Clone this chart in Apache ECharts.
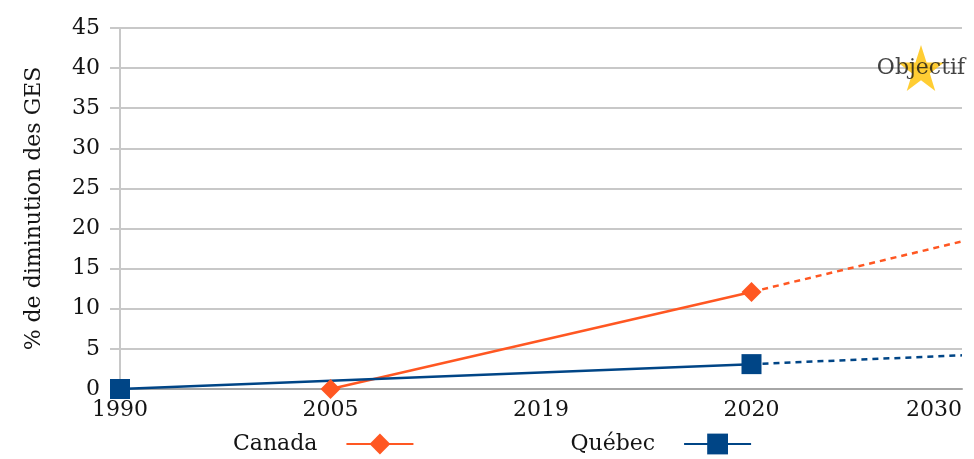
<!DOCTYPE html>
<html lang="fr">
<head>
    <meta charset="UTF-8">
    <title>% de diminution des GES</title>
    <style>
        html, body {
            margin: 0;
            padding: 0;
            background: #ffffff;
        }
        #chart {
            width: 974px;
            height: 459px;
        }
    </style>
    <script src="https://cdn.jsdelivr.net/npm/echarts@6/dist/echarts.min.js"></script>
</head>
<body>
    <div id="chart"></div>
    <script>
        // données
        const years = ['1990', '2005', '2019', '2020', '2030'];
        const canada = [null, 0, null, 12.1, null];
        const canadaProjection = [null, null, null, 12.1, 18.4];
        const quebec = [0, null, null, 3.1, null];
        const quebecProjection = [null, null, null, 3.1, 4.2];
        const objectif = [null, null, null, null, 40];

        const font = 'DejaVu Serif';
        const fontSize = 22;
        const textColor = '#141414';
        const orange = '#ff5722';
        const blue = '#004586';
        const starPath = 'path://M50,0 L61.8,35.1 L98.9,35.1 L68.8,57.4 L80.3,92.7 L50,70.8 L19.7,92.7 L31.2,57.4 L1.1,35.1 L38.2,35.1 Z';

        const chart = echarts.init(document.getElementById('chart'));
        chart.setOption({
            animation: false,
            textStyle: { fontFamily: font, color: textColor },
            grid: { left: 120, right: 12, top: 28, bottom: 70 },
            legend: {
                data: ['Canada', 'Québec'],
                bottom: -1,
                left: 228,
                align: 'right',
                itemGap: 156,
                itemWidth: 67,
                itemHeight: 26,
                textStyle: {
                    fontFamily: font,
                    fontSize: fontSize,
                    color: textColor,
                    padding: [0, 24, 0, 0]
                }
            },
            xAxis: {
                type: 'category',
                boundaryGap: false,
                data: years,
                axisLine: { lineStyle: { color: '#a6a6a6', width: 2 } },
                axisTick: { show: false },
                axisLabel: {
                    margin: 10,
                    fontSize: fontSize,
                    color: textColor,
                    fontFamily: font,
                    alignMaxLabel: 'right'
                },
                splitLine: { show: false }
            },
            yAxis: {
                type: 'value',
                min: 0,
                max: 45,
                interval: 5,
                name: '% de diminution des GES',
                nameLocation: 'middle',
                nameGap: 75,
                nameTextStyle: { fontFamily: font, fontSize: fontSize, color: textColor },
                axisLine: { show: true, lineStyle: { color: '#c8c8c8', width: 2 } },
                axisTick: { show: true, length: 10, lineStyle: { color: '#c8c8c8', width: 2 } },
                axisLabel: { margin: 20, fontSize: fontSize, color: textColor, fontFamily: font },
                splitLine: { lineStyle: { color: '#c8c8c8', width: 2 } }
            },
            series: [
                {
                    name: 'Canada',
                    type: 'line',
                    data: canada,
                    connectNulls: true,
                    symbol: 'diamond',
                    symbolSize: 20,
                    itemStyle: { color: orange },
                    lineStyle: { color: orange, width: 2.5 },
                    z: 4
                },
                {
                    name: 'Canada projection',
                    type: 'line',
                    data: canadaProjection,
                    showSymbol: false,
                    symbol: 'none',
                    lineStyle: { color: orange, width: 2.5, type: [6, 5] },
                    z: 3
                },
                {
                    name: 'Québec',
                    type: 'line',
                    data: quebec,
                    connectNulls: true,
                    symbol: 'rect',
                    symbolSize: 20,
                    itemStyle: { color: blue },
                    lineStyle: { color: blue, width: 2.5 },
                    z: 4
                },
                {
                    name: 'Québec projection',
                    type: 'line',
                    data: quebecProjection,
                    showSymbol: false,
                    symbol: 'none',
                    lineStyle: { color: blue, width: 2.5, type: [6, 5] },
                    z: 3
                },
                {
                    name: 'Objectif',
                    type: 'scatter',
                    data: objectif,
                    symbol: starPath,
                    symbolSize: [46, 46],
                    symbolOffset: [-41, 0],
                    itemStyle: { color: '#ffc000' },
                    label: {
                        show: true,
                        position: 'inside',
                        formatter: 'Objectif',
                        fontFamily: font,
                        fontSize: fontSize,
                        color: textColor
                    },
                    z: 5
                }
            ]
        });
    </script>
</body>
</html>
